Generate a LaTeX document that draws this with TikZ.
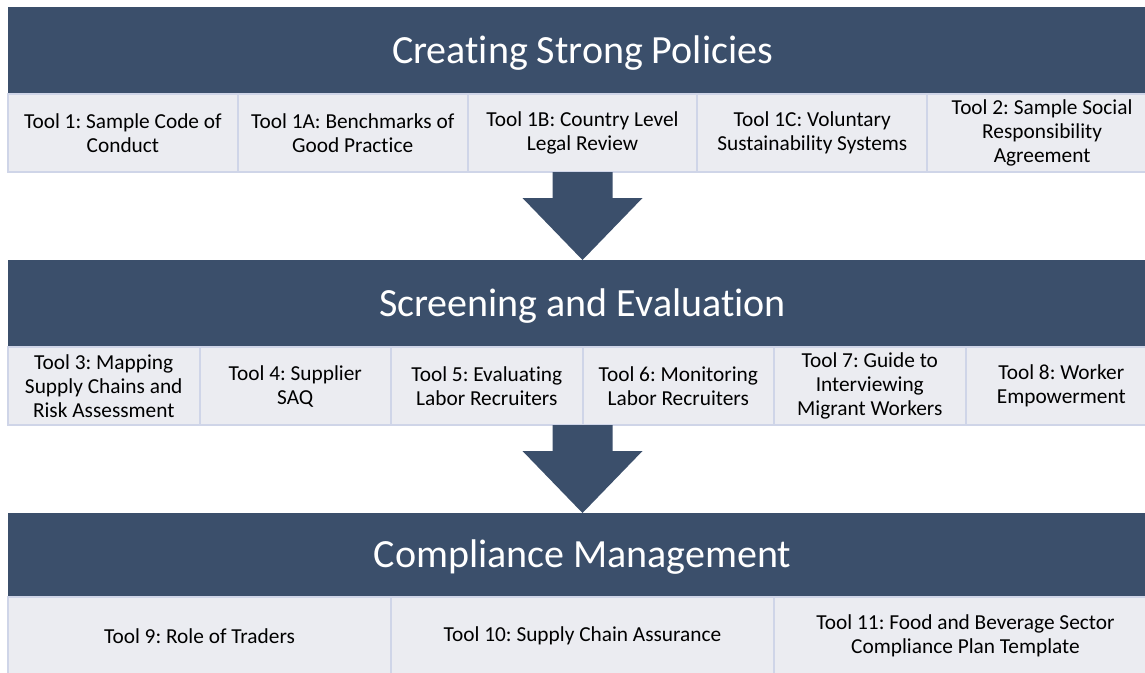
\documentclass[tikz,border=0pt]{standalone}
\usepackage{fontspec}
\setmainfont{Carlito}[Ligatures=NoCommon]
\usetikzlibrary{positioning}
\frenchspacing

\definecolor{bandblue}{HTML}{3B4F6B}
\definecolor{toolgray}{HTML}{EBECF1}
\definecolor{toolline}{HTML}{CFD5E8}

\tikzset{
  band/.style={fill=bandblue, text=white, font=\fontsize{30}{36}\selectfont,
    minimum width=861.75pt, minimum height=65.25pt, text height=18.75pt, text depth=0pt,
    inner sep=0pt, outer sep=0pt},
  tool/.style={draw=toolline, line width=1.5pt, fill=toolgray, align=center,
    font=\fontsize{16}{18}\selectfont, minimum height=58.5pt, inner sep=1pt, outer sep=0pt},
  toolfive/.style={tool, minimum width=172.35pt},
  toolsix/.style={tool, minimum width=143.625pt},
  toolthree/.style={tool, minimum width=287.25pt}
}

\begin{document}
\begin{tikzpicture}
    \useasboundingbox (0, 0) rectangle (858.75pt, -504pt);
    \clip (0, 0) rectangle (858.75pt, -504pt);

    \node [band, anchor=north west] (h1) at (6pt, -5.25pt) {Creating Strong Policies};
    \node [toolfive, below right=0pt and 0pt of h1.south west] (c11) {Tool 1: Sample Code of\\Conduct};
    \node [toolfive, right=0pt of c11] (c12) {Tool 1A: Benchmarks of\\Good Practice};
    \node [toolfive, right=0pt of c12] (c13) {Tool 1B: Country Level\\Legal Review};
    \node [toolfive, right=0pt of c13] (c14) {Tool 1C: Voluntary\\Sustainability Systems};
    \node [toolfive, right=0pt of c14] (c15) {Tool 2: Sample Social\\Responsibility\\Agreement};

    \node [band, below=66pt of c13] (h2) {Screening and Evaluation};
    \node [toolsix, below right=0pt and 0pt of h2.south west] (c21) {Tool 3: Mapping\\Supply Chains and\\Risk Assessment};
    \node [toolsix, right=0pt of c21] (c22) {Tool 4: Supplier\\SAQ};
    \node [toolsix, right=0pt of c22] (c23) {Tool 5: Evaluating\\Labor Recruiters};
    \node [toolsix, right=0pt of c23] (c24) {Tool 6: Monitoring\\Labor Recruiters};
    \node [toolsix, right=0pt of c24] (c25) {Tool 7: Guide to\\Interviewing\\Migrant Workers};
    \node [toolsix, right=0pt of c25] (c26) {Tool 8: Worker\\Empowerment};

    \coordinate (m2) at (h2.south |- c21.south);
    \node [band, minimum height=63pt, below=66pt of m2] (h3) {Compliance Management};
    \node [toolthree, below right=0pt and 0pt of h3.south west] (c31) {Tool 9: Role of Traders};
    \node [toolthree, right=0pt of c31] (c32) {Tool 10: Supply Chain Assurance};
    \node [toolthree, right=0pt of c32] (c33) {Tool 11: Food and Beverage Sector\\Compliance Plan Template};

    \fill [bandblue] ([xshift=-22.5pt]c13.south) -- ++(0, -19.5pt) -- ++(-22.5pt, 0) -- (h2.north) -- ++(45pt, 46.5pt) -- ++(-22.5pt, 0) -- ++(0, 19.5pt) -- cycle;
    \fill [bandblue] ([xshift=-22.5pt]m2) -- ++(0, -19.5pt) -- ++(-22.5pt, 0) -- (h3.north) -- ++(45pt, 46.5pt) -- ++(-22.5pt, 0) -- ++(0, 19.5pt) -- cycle;
\end{tikzpicture}
\end{document}
